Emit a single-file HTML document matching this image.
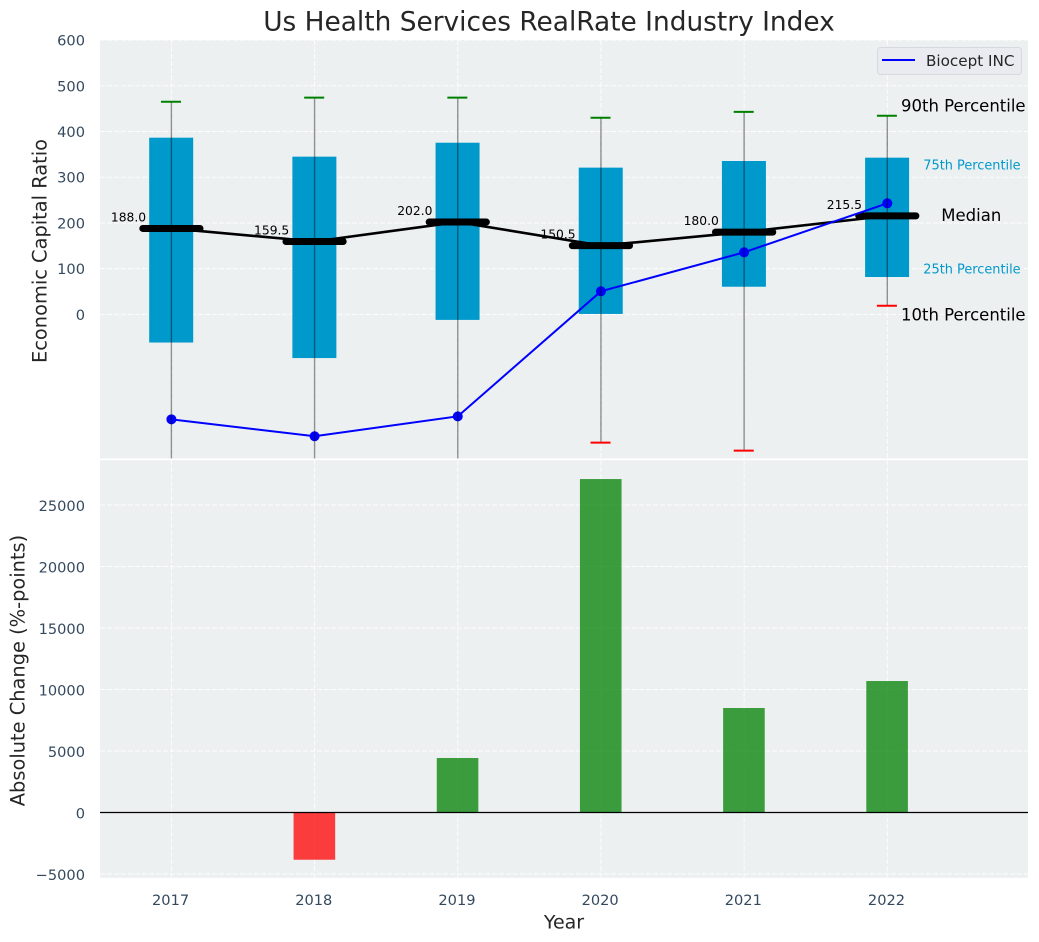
<!DOCTYPE html>
<html lang="en">
<head>
<meta charset="utf-8">
<title>Us Health Services RealRate Industry Index</title>
<style>
html,body{margin:0;padding:0;background:#fff;}
svg{display:block;font-family:"DejaVu Sans","Liberation Sans",sans-serif;}
</style>
</head>
<body>
<svg id="chart" xmlns="http://www.w3.org/2000/svg" width="1039" height="942" viewBox="0 0 1039 942">
  <defs>
    <clipPath id="clip-top"><rect x="100" y="40" width="928" height="418.4"/></clipPath>
    <clipPath id="clip-bottom"><rect x="100" y="460.2" width="928" height="417.6"/></clipPath>
  </defs>
  <rect x="0" y="0" width="1039" height="942" fill="#ffffff"/>
  <rect x="100" y="40" width="928" height="418.4" fill="#ecf0f1"/>
  <rect x="100" y="460.2" width="928" height="417.6" fill="#ecf0f1"/>
  <g id="top-grid" clip-path="url(#clip-top)"></g>
  <g id="bottom-grid" clip-path="url(#clip-bottom)"></g>
  <g id="top-marks" clip-path="url(#clip-top)"></g>
  <g id="bottom-marks" clip-path="url(#clip-bottom)"></g>
  <g id="labels"></g>
  <text x="549" y="30.5" text-anchor="middle" font-size="26.4" fill="#262626">Us Health Services RealRate Industry Index</text>
  <text transform="translate(46.5,251) rotate(-90)" text-anchor="middle" font-size="19.4" fill="#262626">Economic Capital Ratio</text>
  <text transform="translate(24.5,670.5) rotate(-90)" text-anchor="middle" font-size="19.4" fill="#262626">Absolute Change (%-points)</text>
  <text x="564" y="928.5" text-anchor="middle" font-size="19" fill="#262626">Year</text>
  <g>
    <rect x="877.5" y="47.5" width="144" height="27" rx="3" ry="3" fill="#e9ebf0" stroke="#d6d9dd" stroke-width="1"/>
    <line x1="882" x2="915" y1="60" y2="60" stroke="#0000ff" stroke-width="2"/>
    <text x="926" y="66" font-size="15.2" fill="#262626">Biocept INC</text>
  </g>
</svg>
<script>
const years = [2017, 2018, 2019, 2020, 2021, 2022];
const p90 = [465, 474, 474, 430, 443, 434.5];
const q3 = [386.5, 345, 375.5, 321, 335.5, 342.8];
const medians = [188.0, 159.5, 202.0, 150.5, 180.0, 215.5];
const q1 = [-61.5, -95.5, -12, 1, 60.5, 81.8];
const p10 = [-340, -340, -340, -280.5, -298, 19];
const company = [-229.5, -266.5, -223, 50.5, 135.8, 243];
const changes = [0, -3840, 4430, 27110, 8495, 10690];
const topTicks = [0, 100, 200, 300, 400, 500, 600];
const bottomTicks = [-5000, 0, 5000, 10000, 15000, 20000, 25000];

const SVGNS = 'http://www.w3.org/2000/svg';
function xAxis(year) { return 171.4 + (year - 2017) * 143.18; }
function yTop(v) { return 314.4 - v * 0.4572; }
function yBottom(v) { return 812.5 - v * 0.0123; }
function mk(tag, attrs, parent, text) {
  const el = document.createElementNS(SVGNS, tag);
  for (const k in attrs) el.setAttribute(k, attrs[k]);
  if (text !== undefined) el.textContent = text;
  parent.appendChild(el);
  return el;
}
const topGrid = document.getElementById('top-grid');
const bottomGrid = document.getElementById('bottom-grid');
const topMarks = document.getElementById('top-marks');
const bottomMarks = document.getElementById('bottom-marks');
const labels = document.getElementById('labels');
const gridStyle = { stroke: '#ffffff', 'stroke-opacity': 0.85, 'stroke-width': 1, 'stroke-dasharray': '5 2' };
const tickColor = '#34495e';

topTicks.forEach(function (t) {
  const g = mk('line', Object.assign({ x1: 100, x2: 1028, y1: yTop(t), y2: yTop(t) }, gridStyle), topGrid);
  
  
  const lab = mk('text', { x: 85, y: yTop(t) + 5.5, 'text-anchor': 'end', 'font-size': 14.6, fill: tickColor }, labels, String(t));
  
  
});
bottomTicks.forEach(function (t) {
  const g = mk('line', Object.assign({ x1: 100, x2: 1028, y1: yBottom(t), y2: yBottom(t) }, gridStyle), bottomGrid);
  
  
  const txt = t < 0 ? '\u2212' + Math.abs(t) : String(t);
  const lab = mk('text', { x: 85, y: yBottom(t) + 6, 'text-anchor': 'end', 'font-size': 14.6, fill: tickColor }, labels, txt);
  
  
});
years.forEach(function (yr) {
  const x = xAxis(yr);
  const g1 = mk('line', Object.assign({ x1: x, x2: x, y1: 40, y2: 458.4 }, gridStyle), topGrid);
  
  
  const g2 = mk('line', Object.assign({ x1: x, x2: x, y1: 460.2, y2: 877.8 }, gridStyle), bottomGrid);
  
  
  const lab = mk('text', { x: x - 0.8, y: 905, 'text-anchor': 'middle', 'font-size': 14.6, fill: tickColor }, labels, String(yr));
  
  
});

years.forEach(function (yr, i) {
  const x = xAxis(yr) - 0.2;
  const box = mk('rect', { x: x - 22, y: yTop(q3[i]), width: 44, height: yTop(q1[i]) - yTop(q3[i]), fill: '#0099cc' }, topMarks);
  
  
});

years.forEach(function (yr, i) {
  const lab = mk('text', { x: xAxis(yr) - 25.3, y: yTop(medians[i]) - 7, 'text-anchor': 'end', 'font-size': 12.3, fill: '#000000' }, topMarks, medians[i].toFixed(1));
  
  
});

const medianPath = mk('polyline', {
  points: years.map(function (yr, i) { return xAxis(yr) + ',' + yTop(medians[i]); }).join(' '),
  fill: 'none', stroke: '#000000', 'stroke-width': 2.6
}, topMarks);



years.forEach(function (yr, i) {
  const x = xAxis(yr);
  const m = mk('line', { x1: x - 28.6, x2: x + 28.6, y1: yTop(medians[i]), y2: yTop(medians[i]), stroke: '#000000', 'stroke-width': 7, 'stroke-linecap': 'round' }, topMarks);
  
  
});

const companyPath = mk('polyline', {
  points: years.map(function (yr, i) { return xAxis(yr) + ',' + yTop(company[i]); }).join(' '),
  fill: 'none', stroke: '#0000ff', 'stroke-width': 2
}, topMarks);



years.forEach(function (yr, i) {
  const pt = mk('circle', { cx: xAxis(yr), cy: yTop(company[i]), r: 5, fill: '#0000ff' }, topMarks);
  
  
});

years.forEach(function (yr, i) {
  const x = xAxis(yr);
  const w = mk('line', { x1: x, x2: x, y1: yTop(p90[i]), y2: yTop(p10[i]), stroke: '#000000', 'stroke-opacity': 0.42, 'stroke-width': 1.4 }, topMarks);
  
  
  const cu = mk('line', { x1: x - 10.4, x2: x + 9.6, y1: yTop(p90[i]), y2: yTop(p90[i]), stroke: '#008000', 'stroke-width': 2 }, topMarks);
  
  
  const cl = mk('line', { x1: x - 10.4, x2: x + 9.6, y1: yTop(p10[i]), y2: yTop(p10[i]), stroke: '#ff0000', 'stroke-width': 2 }, topMarks);
  
  
});

const last = years.length - 1;
const lastX = xAxis(years[last]);
const a90 = mk('text', { x: lastX + 13.7, y: yTop(p90[last]) - 4, 'font-size': 16.5, fill: '#000000' }, topMarks, '90th Percentile');


const a75 = mk('text', { x: lastX + 36, y: yTop(q3[last]) + 12, 'font-size': 12.9, fill: '#0099cc' }, topMarks, '75th Percentile');


const aMed = mk('text', { x: lastX + 84, y: yTop(medians[last]) + 5, 'text-anchor': 'middle', 'font-size': 16.5, fill: '#000000' }, topMarks, 'Median');


const a25 = mk('text', { x: lastX + 36, y: yTop(q1[last]) - 3.5, 'font-size': 12.9, fill: '#0099cc' }, topMarks, '25th Percentile');


const a10 = mk('text', { x: lastX + 13.7, y: yTop(p10[last]) + 15, 'font-size': 16.5, fill: '#000000' }, topMarks, '10th Percentile');



years.forEach(function (yr, i) {
  if (!changes[i]) return;
  const x = xAxis(yr) - 0.2;
  const y0 = yBottom(0);
  const y1 = yBottom(changes[i]);
  const bar = mk('rect', { x: x - 20.8, y: Math.min(y0, y1), width: 41.6, height: Math.abs(y1 - y0), fill: changes[i] >= 0 ? '#008000' : '#ff0000', 'fill-opacity': 0.75 }, bottomMarks);
  
  
});
const zeroLine = mk('line', { x1: 100, x2: 1028, y1: yBottom(0), y2: yBottom(0), stroke: '#000000', 'stroke-width': 1.2 }, bottomMarks);


</script>
</body>
</html>
